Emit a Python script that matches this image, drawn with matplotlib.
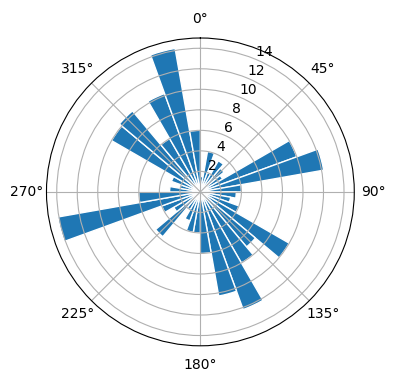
import numpy as np
import matplotlib
matplotlib.use("Agg")
import matplotlib.pyplot as plt

# bin start angles (degrees) and bar heights (counts)
bin_starts_deg = list(range(0, 360, 10))
counts = [1.5, 4.0, 2.0, 3.5, 3.0, 2.5, 10.0, 12.2, 4.0, 3.5,
          3.0, 4.0, 10.0, 7.0, 8.0, 12.2, 10.3, 6.0, 4.0, 4.0,
          3.0, 2.0, 5.7, 3.0, 4.0, 14.1, 6.0, 3.0, 2.0, 3.0,
          10.0, 10.3, 6.0, 10.2, 14.2, 6.0]
bin_width_deg = 10

fig = plt.figure(figsize=(3.96, 3.80), dpi=100)
ax = fig.add_subplot(111, projection="polar")
theta = np.deg2rad(bin_starts_deg)
ax.bar(theta, counts, width=np.deg2rad(bin_width_deg), align="edge",
       color="#1f77b4", edgecolor="white", linewidth=1)
ax.set_theta_zero_location("N")
ax.set_theta_direction(-1)
ax.set_rlabel_position(22.5)
ax.set_ylim(0, 15)
ax.set_yticks([2, 4, 6, 8, 10, 12, 14])
ax.grid(True)
fig.subplots_adjust(left=0.106, right=0.906, bottom=0.09, top=0.9)
fig.savefig("out.png", dpi=100)
